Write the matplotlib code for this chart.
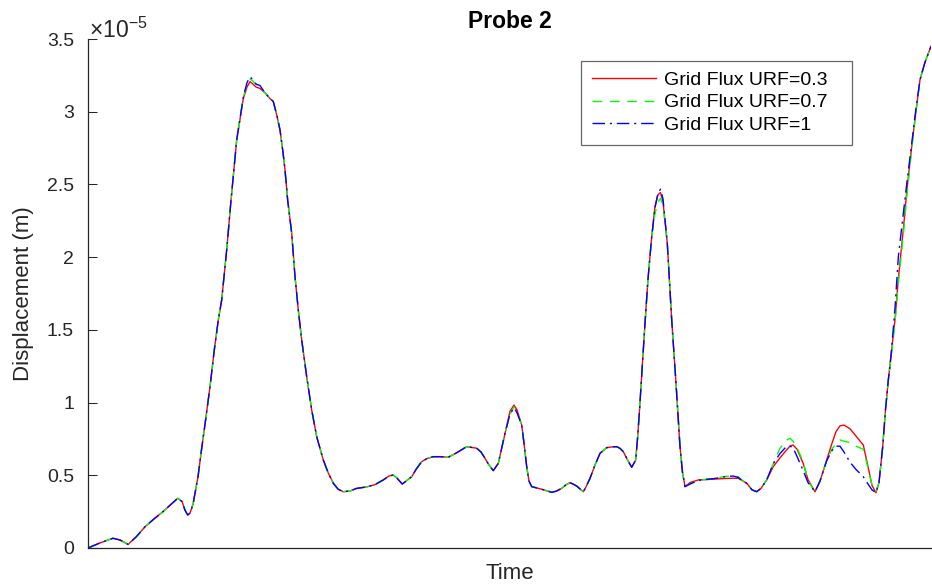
import matplotlib
matplotlib.use("Agg")
import matplotlib.pyplot as plt

plt.rcParams['font.family'] = ['Liberation Sans', 'DejaVu Sans']
plt.rcParams['mathtext.fontset'] = 'custom'
plt.rcParams['mathtext.rm'] = 'Liberation Sans'
plt.rcParams['mathtext.it'] = 'Liberation Sans'

# time (arbitrary units)
x_px = [88, 100, 113, 120, 128, 136, 145, 154, 163, 171, 177.7, 182, 185, 187.7, 190, 193, 198,
        201.7, 205, 210, 214.3, 218.3, 221.7, 226.7, 231, 236.7, 243.3, 247, 250, 253, 256, 260,
        265, 270, 273.3, 277, 280, 283, 285, 287.7, 291.7, 295, 298.3, 301.7, 306.7, 311.7, 316.7,
        320, 323.3, 328, 333.3, 338, 343.3, 350, 356.7, 366.7, 375, 383.3, 389, 393.3, 397, 402.3,
        406, 411.7, 416, 421.7, 427, 433.3, 440, 448.3, 456.7, 466.7, 476.7, 481, 485, 489, 493.3,
        498.3, 505, 510, 514, 517, 521.7, 524, 526.7, 529, 531.7, 541.7, 551.7, 556, 561.7, 566,
        570, 573, 576.7, 583.3, 586, 590, 595, 600, 606.7, 612, 616.7, 620, 623.3, 628, 631.7,
        635.7, 637.5, 639.3, 641, 645, 648, 651.7, 655, 658, 660.5, 663, 667.3, 671.7, 676, 680,
        682.5, 685, 690, 698.3, 705, 716.7, 725, 733.3, 738.3, 742, 746.7, 752, 756.7, 761, 766.7,
        773.3, 780, 786, 790, 793, 797, 803.3, 808, 815, 820, 826.7, 832, 836, 840, 844, 850, 856,
        863.3, 868, 872, 876, 879, 882.7, 885.5, 888.3, 891, 895, 898.3, 903.3, 907, 911.7, 915,
        920, 925, 931]
time = [round(v - 88, 1) for v in x_px]

common_a = [0, 0.035, 0.067, 0.055, 0.025, 0.075, 0.146, 0.20, 0.25, 0.30, 0.342, 0.32, 0.26, 0.227,
            0.24, 0.30, 0.49, 0.686, 0.85, 1.109, 1.362, 1.568, 1.706, 2.05, 2.39, 2.806]

urf1 = common_a + [3.10, 3.20, 3.24, 3.22, 3.19, 3.18] + \
    [3.13, 3.09, 3.07, 2.97, 2.875, 2.72, 2.60, 2.39, 2.164, 1.866, 1.637, 1.43, 1.178, 0.949, 0.765,
     0.686, 0.605, 0.52, 0.445, 0.405, 0.387, 0.392, 0.41, 0.42, 0.436, 0.468, 0.495, 0.502, 0.48, 0.44,
     0.46, 0.49, 0.54, 0.594, 0.615, 0.628, 0.628, 0.624, 0.655, 0.697, 0.686, 0.66, 0.617, 0.57, 0.532,
     0.582, 0.789] + [0.92, 0.965, 0.93] + \
    [0.846, 0.72, 0.559, 0.46, 0.422, 0.404, 0.383, 0.39, 0.41, 0.435, 0.449, 0.44, 0.426, 0.387, 0.42,
     0.479, 0.57, 0.651, 0.69, 0.695, 0.697, 0.685, 0.662, 0.60, 0.555, 0.605, 0.75, 0.926, 1.11, 1.545,
     1.85, 2.14] + [2.34, 2.44, 2.467, 2.40] + \
    [2.095, 1.568, 1.133, 0.697, 0.52, 0.422] + \
    [0.44, 0.465, 0.47, 0.48, 0.49, 0.495, 0.485] + \
    [0.465, 0.445, 0.40, 0.387, 0.41, 0.468] + \
    [0.58, 0.65, 0.695, 0.70, 0.69, 0.63, 0.53, 0.45] + \
    [0.387, 0.46] + \
    [0.60, 0.67, 0.70, 0.70, 0.66, 0.59, 0.54, 0.49, 0.44, 0.40] + \
    [0.38, 0.45, 0.697, 0.95, 1.155] + \
    [1.32, 1.65, 2.00, 2.30, 2.52, 2.78, 2.97] + [3.22, 3.34, 3.45]

urf03 = common_a + [3.09, 3.17, 3.207, 3.19, 3.17, 3.16] + \
    [3.13, 3.09, 3.07, 2.97, 2.875, 2.72, 2.60, 2.39, 2.164, 1.866, 1.637, 1.43, 1.178, 0.949, 0.765,
     0.686, 0.605, 0.52, 0.445, 0.405, 0.387, 0.392, 0.41, 0.42, 0.436, 0.468, 0.495, 0.502, 0.48, 0.44,
     0.46, 0.49, 0.54, 0.594, 0.615, 0.628, 0.628, 0.624, 0.655, 0.697, 0.686, 0.66, 0.617, 0.57, 0.532,
     0.582, 0.789] + [0.94, 0.983, 0.95] + \
    [0.846, 0.72, 0.559, 0.46, 0.422, 0.404, 0.383, 0.39, 0.41, 0.435, 0.449, 0.44, 0.426, 0.387, 0.42,
     0.479, 0.57, 0.651, 0.69, 0.695, 0.697, 0.685, 0.662, 0.60, 0.555, 0.605, 0.75, 0.926, 1.11, 1.545,
     1.85, 2.14] + [2.35, 2.43, 2.444, 2.38] + \
    [2.095, 1.568, 1.133, 0.697, 0.52, 0.422] + \
    [0.45, 0.468, 0.47, 0.475, 0.478, 0.48, 0.479] + \
    [0.465, 0.445, 0.40, 0.387, 0.41, 0.468] + \
    [0.56, 0.62, 0.67, 0.70, 0.708, 0.68, 0.58, 0.47] + \
    [0.387, 0.46] + \
    [0.605, 0.72, 0.80, 0.84, 0.845, 0.82, 0.77, 0.708, 0.56, 0.43] + \
    [0.38, 0.45, 0.697, 0.95, 1.155] + \
    [1.32, 1.57, 1.85, 2.19, 2.47, 2.76, 2.95] + [3.22, 3.34, 3.45]

urf07 = common_a + [3.10, 3.19, 3.225, 3.21, 3.19, 3.17] + \
    [3.13, 3.09, 3.07, 2.97, 2.875, 2.72, 2.60, 2.39, 2.164, 1.866, 1.637, 1.43, 1.178, 0.949, 0.765,
     0.686, 0.605, 0.52, 0.445, 0.405, 0.387, 0.392, 0.41, 0.42, 0.436, 0.468, 0.495, 0.502, 0.48, 0.44,
     0.46, 0.49, 0.54, 0.594, 0.615, 0.628, 0.628, 0.624, 0.655, 0.697, 0.686, 0.66, 0.617, 0.57, 0.532,
     0.582, 0.789] + [0.92, 0.97, 0.935] + \
    [0.846, 0.72, 0.559, 0.46, 0.422, 0.404, 0.383, 0.39, 0.41, 0.435, 0.449, 0.44, 0.426, 0.387, 0.42,
     0.479, 0.57, 0.651, 0.69, 0.695, 0.697, 0.685, 0.662, 0.60, 0.555, 0.605, 0.75, 0.926, 1.11, 1.545,
     1.85, 2.14] + [2.30, 2.38, 2.405, 2.36] + \
    [2.095, 1.568, 1.133, 0.697, 0.52, 0.422] + \
    [0.44, 0.465, 0.472, 0.482, 0.492, 0.497, 0.49] + \
    [0.465, 0.445, 0.40, 0.387, 0.41, 0.468] + \
    [0.58, 0.686, 0.74, 0.754, 0.735, 0.69, 0.59, 0.46] + \
    [0.387, 0.46] + \
    [0.605, 0.68, 0.72, 0.743, 0.735, 0.724, 0.70, 0.679, 0.55, 0.43] + \
    [0.39, 0.45, 0.697, 0.95, 1.155] + \
    [1.30, 1.55, 1.82, 2.15, 2.43, 2.74, 2.95] + [3.22, 3.34, 3.45]

labels = ['Grid Flux URF=0.3', 'Grid Flux URF=0.7', 'Grid Flux URF=1']
yticks = [0, 0.5, 1, 1.5, 2, 2.5, 3, 3.5]
ytick_labels = ['0', '0.5', '1', '1.5', '2', '2.5', '3', '3.5']

fig = plt.figure(figsize=(9.32, 5.87), dpi=100)
ax = fig.add_axes([88 / 932, (587 - 548) / 587, 843 / 932, 509 / 587])

ax.plot(time, urf03, color=(1, 0, 0), lw=1.0, label=labels[0])
ax.plot(time, urf07, color=(0, 1, 0), lw=1.0, linestyle=(0, (7, 5.5)), label=labels[1])
ax.plot(time, urf1, color=(0, 0, 1), lw=1.0, linestyle=(0, (9, 3.5, 1.5, 3.5)), label=labels[2])

ax.set_xlim(0, 843)
ax.set_ylim(0, 3.5)
ax.set_xticks([])
ax.set_yticks(yticks)
ax.set_yticklabels(ytick_labels)
ax.tick_params(axis='y', direction='in', length=6.5, width=0.75, colors='#262626',
               labelsize=14, labelcolor='#262626', pad=10)
for s in ['top', 'right']:
    ax.spines[s].set_visible(False)
for s in ['left', 'bottom']:
    ax.spines[s].set_color('#262626')
    ax.spines[s].set_linewidth(0.9)

ax.text(0.001, 0.993, r'$\times10^{-5}$', transform=ax.transAxes, fontsize=16.5,
        color='#262626', ha='left', va='bottom')

ax.set_title('Probe 2', fontsize=16.5, fontweight='bold', pad=8)
ax.set_xlabel('Time', fontsize=16, color='#262626', labelpad=11)
ax.set_ylabel('Displacement (m)', fontsize=16, color='#262626', labelpad=9)

leg = ax.legend(loc='upper left',
                bbox_to_anchor=((581 - 88) / 843, (548 - 60.7) / 509, (852 - 581) / 843, 0.0),
                mode='expand', borderaxespad=0, fontsize=14, handlelength=3.3, handletextpad=0.4,
                labelspacing=0.25, fancybox=False, framealpha=1, borderpad=0.55)
leg.get_frame().set_edgecolor('#666666')
leg.get_frame().set_linewidth(0.9)
for t in leg.get_texts():
    t.set_color('#000000')

fig.savefig('out.png', dpi=100)
